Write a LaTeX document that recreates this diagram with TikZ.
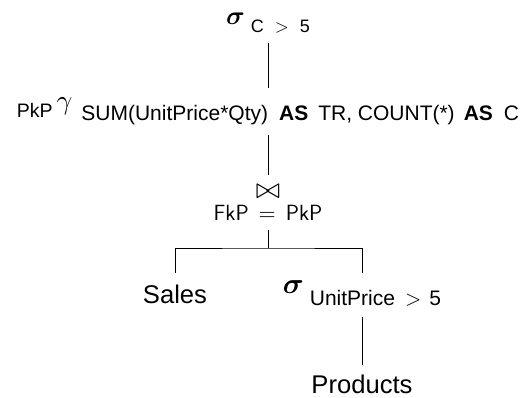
\documentclass[tikz,border=0pt]{standalone}
\usepackage{amsmath}
\usepackage{graphicx}
\usepackage[no-math]{fontspec}
\setmainfont{Liberation Sans}
\newcommand{\fsz}[1]{\fontsize{#1}{#1}\selectfont}
\newcommand{\mth}[2]{\scalebox{#1}{\normalsize$#2$}}
\begin{document}
\begin{tikzpicture}[x=1pt,y=-1pt,
  lbl/.style={inner sep=0pt, outer sep=0pt, anchor=base},
  conn/.style={line width=0.8pt}]
\useasboundingbox (0,0) rectangle (527,398);

\node[lbl, text height=13pt, text depth=18pt] (sel1) at (268,25)
  {\mth{2.6}{\boldsymbol{\sigma}}\hspace{6pt}\raisebox{-8pt}{\fsz{18}C\hspace{11pt}\mth{1.8}{>}\hspace{11pt}5}};

\node[lbl, text height=30pt, text depth=17pt] (grp) at (268,118)
  {\fsz{19.5}PkP\hspace{4pt}\raisebox{8pt}{\mth{2.75}{\gamma}}\hspace{9pt}\raisebox{-2.5pt}{\fsz{21}SUM(UnitPrice*Qty)\hspace{11pt}\textbf{AS}\hspace{10pt}TR, COUNT(*)\hspace{9pt}\textbf{AS}\hspace{11pt}C}};

\node[lbl, text height=45pt, text depth=10pt] (join) at (268,220)
  {\fsz{20}\begin{tabular}[b]{@{}c@{}}\mth{2.9}{\bowtie}\\
   \fsz{22}\sffamily FkP\hspace{10pt}\mth{2.2}{=}\hspace{10pt}PkP\end{tabular}};

\coordinate (fork) at (268,248);

\node[lbl, text height=30pt, text depth=0pt] (sales) at (175,303)
  {\fsz{25.6}Sales};
\node[lbl, text height=20pt, text depth=24pt] (sel2) at (362,293)
  {\mth{2.9}{\boldsymbol{\sigma}}\hspace{6pt}\raisebox{-12pt}{\fsz{21}UnitPrice\hspace{10pt}\mth{2.1}{>}\hspace{8pt}5}};
\node[lbl, text height=28pt, text depth=0pt] (prod) at (362,393)
  {\fsz{25.6}Products};

\draw[conn] (sel1.south) -- (grp.north);
\draw[conn] (grp.south) -- (join.north);
\draw[conn] (join.south) -- (fork);
\draw[conn] (sales.north) |- (fork) -| (sel2.north);
\draw[conn] (sel2.south) -- (prod.north);
\end{tikzpicture}
\end{document}
